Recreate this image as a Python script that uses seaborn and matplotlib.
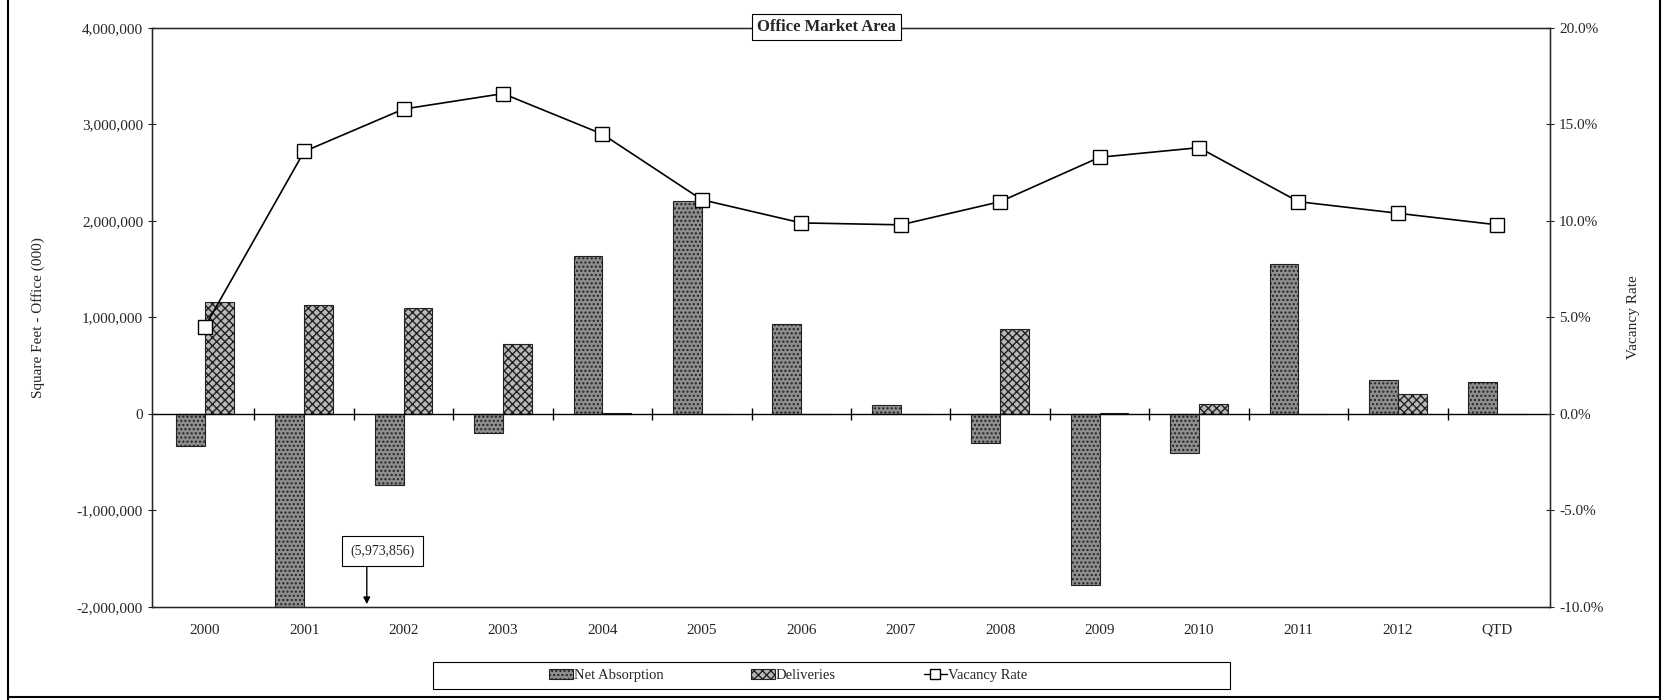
import matplotlib
matplotlib.use("Agg")
import matplotlib.pyplot as plt
from matplotlib.lines import Line2D
from matplotlib.patches import Rectangle
from matplotlib.ticker import FuncFormatter
import numpy as np
import pandas as pd
import seaborn as sns

# values
categories = ["2000", "2001", "2002", "2003", "2004", "2005", "2006",
              "2007", "2008", "2009", "2010", "2011", "2012", "QTD"]
net_absorption = [-330000, -5973856, -740000, -200000, 1640000, 2210000, 930000,
                  90000, -300000, -1770000, -400000, 1550000, 350000, 330000]
deliveries = [1160000, 1130000, 1100000, 720000, 10000, 0, 0,
              0, 880000, 10000, 100000, 0, 210000, 0]
vacancy_rate = [4.5, 13.6, 15.8, 16.6, 14.5, 11.1, 9.9,
                9.8, 11.0, 13.3, 13.8, 11.0, 10.4, 9.8]

sns.set_style("ticks")
plt.rcParams["font.family"] = ["Liberation Serif", "DejaVu Serif"]

bars = pd.DataFrame({
    "Year": categories * 2,
    "Value": net_absorption + deliveries,
    "Series": ["Net Absorption"] * len(categories) + ["Deliveries"] * len(categories),
})

fig = plt.figure(figsize=(16.67, 7), dpi=100)
ax = fig.add_axes([0.0912, 0.133, 0.8386, 0.827])

sns.barplot(data=bars, x="Year", y="Value", hue="Series", ax=ax,
            palette=["#8e8e8e", "#b8b8b8"], width=0.58, legend=False,
            edgecolor="black", linewidth=0.8)
for i, patch in enumerate(ax.patches):
    patch.set_hatch("...." if i < len(categories) else "xxxx")
    patch.set_edgecolor("#222222")

ax.set_xlim(-0.53, len(categories) - 0.47)
ax.set_ylim(-2000000, 4000000)
ax.set_yticks(np.arange(-2000000, 4000001, 1000000))
ax.yaxis.set_major_formatter(FuncFormatter(lambda v, _: f"{v:,.0f}"))
ax.set_xlabel("")
ax.set_ylabel("Square Feet - Office (000)", fontsize=11, labelpad=23)
ax.tick_params(axis="x", length=0, pad=12, labelsize=11)
ax.tick_params(axis="y", direction="inout", length=6, labelsize=11)

# zero line with small category separators
ax.axhline(0, color="black", lw=1)
sep = np.arange(len(categories) - 1) + 0.5
ax.plot(sep, np.zeros_like(sep), ls="none", marker="|", ms=9, color="black", mew=1)

for side in ["top", "bottom", "left", "right"]:
    ax.spines[side].set_visible(True)
    ax.spines[side].set_color("black")
    ax.spines[side].set_linewidth(1)

ax2 = ax.twinx()
sns.lineplot(x=np.arange(len(categories)), y=vacancy_rate, ax=ax2, color="black",
             lw=1.2, marker="s", markersize=10, markerfacecolor="white",
             markeredgecolor="black", markeredgewidth=1)
ax2.set_ylim(-10, 20)
ax2.set_yticks(np.arange(-10, 21, 5))
ax2.yaxis.set_major_formatter(FuncFormatter(lambda v, _: f"{v:.1f}%"))
ax2.set_ylabel("Vacancy Rate", fontsize=11, labelpad=17)
ax2.tick_params(axis="y", direction="inout", length=6, labelsize=11)

# clipped value callout
ax.annotate("", xy=(1.63, -2000000), xytext=(1.63, -1560000),
            arrowprops=dict(arrowstyle="-|>", color="black", lw=1))
ax.text(1.79, -1420000, "(5,973,856)", ha="center", va="center", fontsize=10,
        bbox=dict(boxstyle="square,pad=0.6", fc="white", ec="black", lw=0.8))

fig.text(0.496, 0.962, "Office Market Area", ha="center", va="center",
         fontsize=12, fontweight="bold",
         bbox=dict(boxstyle="square,pad=0.3", fc="white", ec="black", lw=0.8))

# legend: entries centred inside a wide box
fig.add_artist(Rectangle((0.260, 0.016), 0.478, 0.039, transform=fig.transFigure,
                         fill=False, edgecolor="black", lw=0.8))
handles = [ax.patches[0], ax.patches[len(categories)],
           Line2D([], [], color="black", lw=1, marker="s", ms=7,
                  markerfacecolor="white", markeredgecolor="black")]
labels = ["Net Absorption", "Deliveries", "Vacancy Rate"]
fig.legend(handles, labels, ncol=3, loc="center", bbox_to_anchor=(0.473, 0.0355),
           frameon=False, fontsize=10.5, handlelength=1.6, handletextpad=0.1,
           columnspacing=6.0, borderaxespad=0)

# page frame
for xs, ys in [([0.005, 0.005], [0.0, 1.0]), ([0.996, 0.996], [0.0, 1.0]),
               ([0.005, 0.996], [0.004, 0.004])]:
    fig.add_artist(Line2D(xs, ys, color="black", lw=1.5))

fig.savefig("out.png", dpi=100)
